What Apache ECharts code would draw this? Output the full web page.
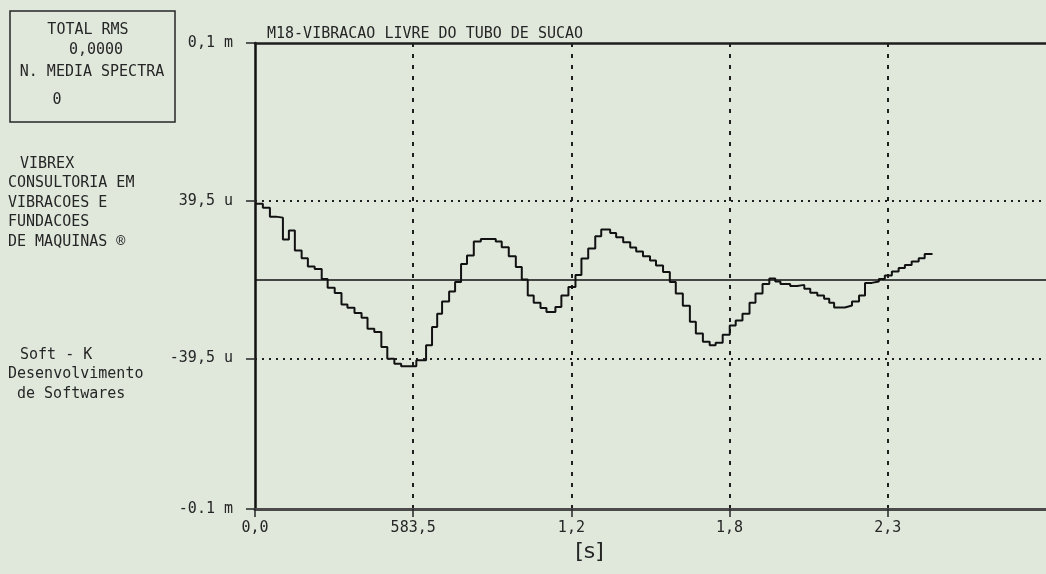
<!DOCTYPE html>
<html><head><meta charset="utf-8">
<script src="https://cdn.jsdelivr.net/npm/echarts@6/dist/echarts.min.js"></script>
<style>html,body{margin:0;padding:0;background:#e0e8dc;}#c{width:1046px;height:574px;}</style>
</head><body><div id="c"></div>
<script>
// ---- data ----
const chartTitle = 'M18-VIBRACAO LIVRE DO TUBO DE SUCAO';
const xUnit = '[s]';
const xInterval = 0.5835;                 // seconds between ticks
const xTickLabels = ['0,0', '583,5', '1,2', '1,8', '2,3', ''];
const yMin = -115, yMax = 118.5;          // in micro units
const yTickValues = [-115, -39.5, 39.5, 118.5];
const yTickLabels = ['-0.1 m', '-39,5 u', '39,5 u', '0,1 m'];
const dottedLevels = [39.5, -39.5];
const zeroLevel = 0;
const boxLines = ['TOTAL RMS', '0,0000', 'N. MEDIA SPECTRA', '0'];
const companyLines = ['VIBREX', 'CONSULTORIA EM', 'VIBRACOES E', 'FUNDACOES', 'DE MAQUINAS \u00AE'];
const softLines = ['Soft - K', 'Desenvolvimento', 'de Softwares'];

// step start times (s) and values (u)
const times = [0.000,0.029,0.055,0.077,0.103,0.125,0.147,0.172,0.195,0.220,0.246,0.268,0.294,0.319,0.341,0.367,0.393,0.415,0.440,0.466,0.488,0.514,0.539,0.595,0.631,0.653,0.672,0.690,0.716,0.738,0.760,0.782,0.807,0.833,0.888,0.910,0.936,0.962,0.984,1.006,1.028,1.053,1.075,1.108,1.130,1.156,1.182,1.204,1.229,1.255,1.277,1.310,1.332,1.358,1.384,1.406,1.431,1.457,1.479,1.505,1.530,1.552,1.578,1.604,1.626,1.652,1.677,1.699,1.725,1.751,1.773,1.798,1.824,1.846,1.872,1.897,1.919,1.938,1.974,2.000,2.026,2.048,2.074,2.099,2.118,2.136,2.176,2.202,2.228,2.250,2.275,2.301,2.323,2.349,2.374,2.397,2.422,2.448,2.470,2.499];
const values = [38,36,31.5,31,20,24.5,14.5,10.7,6.5,5.3,0.3,-4.2,-6.8,-12.5,-14.2,-16.8,-19.2,-24.7,-26.3,-33.8,-39.7,-42.2,-43.5,-40.5,-33,-23.8,-17.2,-11,-6,-1.3,7.8,12,19,20.3,19,16.2,11.7,6.2,0,-8,-11.7,-14.3,-16.3,-13.8,-8,-3.8,2.2,10.5,15.5,21.7,25,23.3,21.2,18.7,16,14,11.7,9.5,7,3.7,-1.2,-7,-13.2,-21.2,-27,-31.2,-33,-31.7,-27.7,-23,-20.5,-17.2,-11.7,-7,-2.2,0.5,-1,-2.2,-3.3,-2.7,-4.7,-6.7,-8,-9.7,-11.7,-14,-13,-11,-8,-1.7,-1,0.3,2,4,5.7,7.3,9,10.7,12.8,12.8];

// ---- chart ----
const FONT = "'DejaVu Sans Mono', monospace";
const INK = '#262626';
const chart = echarts.init(document.getElementById('c'), null, {renderer: 'canvas'});

const textEls = [];
const boxY = [30, 50, 72, 100];
const boxX = [88, 96, 92, 57];
boxLines.forEach((t, i) => textEls.push({type: 'text', style: {text: t, x: boxX[i], y: boxY[i], align: 'center', verticalAlign: 'middle', font: '15px ' + FONT, fill: INK}}));
companyLines.forEach((t, i) => textEls.push({type: 'text', style: {text: t, x: i === 0 ? 20 : 8, y: 164 + i * 19.5, verticalAlign: 'middle', font: '15px ' + FONT, fill: INK}}));
softLines.forEach((t, i) => textEls.push({type: 'text', style: {text: t, x: [20, 8, 17][i], y: 355 + i * 19.5, verticalAlign: 'middle', font: '15px ' + FONT, fill: INK}}));

chart.setOption({
  backgroundColor: '#e0e8dc',
  animation: false,
  title: {text: chartTitle, left: 262, top: 22, textStyle: {fontFamily: FONT, fontSize: 15, fontWeight: 'normal', color: INK}},
  grid: {left: 255, top: 43, right: 0, bottom: 65, show: false},
  xAxis: [{
    type: 'value', min: 0, max: xInterval * 5, interval: xInterval,
    name: xUnit, nameLocation: 'middle', nameGap: 6,
    nameTextStyle: {fontFamily: "'DejaVu Sans', sans-serif", fontSize: 22, lineHeight: 12, color: INK, padding: [0, 122, 0, 0]},
    axisLine: {onZero: false, lineStyle: {color: '#4a4a4a', width: 3}},
    axisTick: {show: true, inside: false, length: 8, lineStyle: {color: INK, width: 1.5}},
    axisLabel: {showMaxLabel: false, margin: 12, fontFamily: FONT, fontSize: 15, color: INK,
      formatter: v => xTickLabels[Math.round(v / xInterval)] || ''},
    splitLine: {show: true, showMaxLine: false, showMinLine: false, lineStyle: {color: '#1e1e1e', width: 2, type: [4, 7]}}
  }, {
    type: 'value', position: 'top', min: 0, max: xInterval * 5, interval: xInterval,
    axisLine: {onZero: false, lineStyle: {color: '#1e1e1e', width: 2.5}},
    axisTick: {show: false}, axisLabel: {show: false}, splitLine: {show: false}
  }],
  yAxis: {
    type: 'value', min: yMin, max: yMax,
    axisLine: {show: true, onZero: false, lineStyle: {color: '#111', width: 2.5}},
    axisTick: {show: true, inside: false, length: 9, customValues: yTickValues, lineStyle: {color: INK, width: 1.5}},
    axisLabel: {margin: 22, fontFamily: FONT, fontSize: 15, color: INK, customValues: yTickValues,
      padding: [0, 0, 6, 0],
      formatter: v => { const i = yTickValues.findIndex(t => Math.abs(t - v) < 1e-6); return i >= 0 ? yTickLabels[i] : ''; }},
    splitLine: {show: false}
  },
  graphic: [
    {type: 'rect', shape: {x: 10, y: 11, width: 165, height: 111}, style: {fill: 'none', stroke: INK, lineWidth: 1.5}},
    ...textEls
  ],
  series: [{
    type: 'line', step: 'end', symbol: 'none',
    data: times.map((t, i) => [t, values[i]]),
    lineStyle: {color: '#111', width: 2},
    markLine: {
      silent: true, symbol: 'none', label: {show: false},
      data: [
        ...dottedLevels.map(v => ({yAxis: v, lineStyle: {color: '#1e1e1e', width: 2, type: [2, 5]}})),
        {yAxis: zeroLevel, lineStyle: {color: '#111', width: 1.5, type: 'solid'}}
      ]
    }
  }]
});
</script></body></html>
